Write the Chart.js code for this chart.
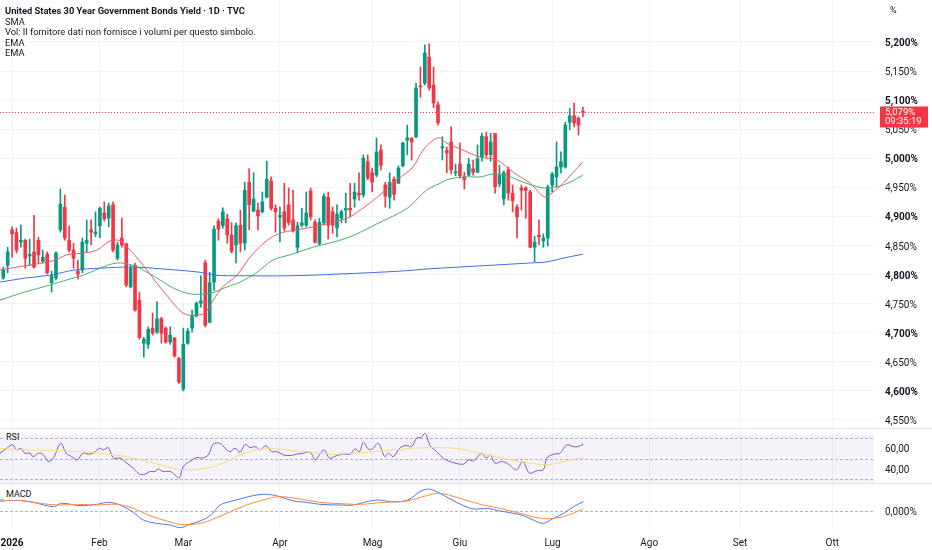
<!DOCTYPE html>
<html>
<head>
<meta charset="utf-8">
<title>US30Y</title>
<script src="https://cdn.jsdelivr.net/npm/chart.js@4.4.1/dist/chart.umd.min.js"></script>
<style>
  html, body { margin: 0; padding: 0; background: #ffffff; }
  #wrap { position: relative; width: 932px; height: 550px; overflow: hidden; font-family: Roboto, "Noto Sans", sans-serif; color: #131722; }
  canvas { position: absolute; left: 0; }
  #legend { position: absolute; left: 5px; top: 6px; font-size: 9.3px; line-height: 10.6px; white-space: nowrap; }
  .tag { position: absolute; left: 4px; font-size: 9px; line-height: 11px; padding: 0 2px; }
  #unit { position: absolute; left: 890px; top: 5px; font-size: 9px; }
</style>
</head>
<body>
<div id="wrap">
  <canvas id="main" width="932" height="428" style="top:0"></canvas>
  <canvas id="rsi" width="932" height="55" style="top:428px"></canvas>
  <canvas id="macd" width="932" height="67" style="top:483px"></canvas>
  <div id="legend">
    <b>United States 30 Year Government Bonds Yield · 1D · TVC</b><br>
    SMA<br>
    Vol: Il fornitore dati non fornisce i volumi per questo simbolo.<br>
    EMA<br>
    EMA
  </div>
  <div id="unit">%</div>
  <div class="tag" style="top:432px;background:#f5f2fa">RSI</div>
  <div class="tag" style="top:489px;background:#ffffff">MACD</div>
</div>
<script>
// --- dati (rendimento %, una candela per seduta) ---
const opens = [4.794,4.816,4.877,4.872,4.856,4.859,4.832,4.839,4.859,4.823,4.835,4.786,4.794,4.877,4.916,4.859,4.842,4.806,4.808,4.854,
  4.877,4.870,4.884,4.906,4.897,4.920,4.828,4.863,4.853,4.779,4.816,4.756,4.682,4.680,4.708,4.701,4.724,4.708,4.684,4.691,
  4.656,4.603,4.682,4.708,4.729,4.751,4.820,4.718,4.787,4.892,4.884,4.896,4.868,4.851,4.885,4.854,4.959,4.909,4.911,4.908,
  4.933,4.961,4.914,4.899,4.908,4.920,4.894,4.847,4.885,4.885,4.944,4.890,4.853,4.889,4.933,4.908,4.880,4.897,4.911,4.914,
  4.930,4.940,4.937,4.994,4.975,4.971,5.014,4.954,4.933,4.964,4.957,4.987,5.031,5.035,5.037,5.124,5.129,5.174,5.126,5.092,
  5.018,5.013,5.028,4.975,4.990,4.968,4.971,4.982,4.976,5.002,5.037,5.006,5.043,4.956,4.930,4.980,4.940,4.916,4.949,4.949,
  4.942,4.847,4.868,4.858,4.863,4.954,4.968,4.985,4.985,5.062,5.073,5.069,5.080];
const highs = [4.813,4.847,4.882,4.880,4.885,4.861,4.861,4.902,4.864,4.842,4.839,4.806,4.839,4.947,4.937,4.884,4.854,4.825,4.863,4.894,
  4.894,4.908,4.916,4.925,4.923,4.925,4.856,4.897,4.854,4.816,4.820,4.770,4.692,4.710,4.734,4.753,4.727,4.710,4.710,4.692,
  4.658,4.708,4.708,4.739,4.753,4.798,4.825,4.804,4.884,4.896,4.915,4.904,4.889,4.889,4.911,4.959,4.982,4.975,4.923,4.942,
  4.995,4.968,4.920,4.916,4.957,4.949,4.945,4.890,4.914,4.942,4.949,4.894,4.897,4.939,4.942,4.916,4.920,4.911,4.940,4.957,
  4.957,4.975,5.006,5.006,4.983,5.035,5.023,4.959,4.975,4.968,4.987,5.028,5.057,5.035,5.129,5.157,5.195,5.197,5.157,5.097,
  5.037,5.019,5.054,4.990,5.026,4.976,5.000,4.997,5.023,5.043,5.045,5.043,5.043,4.988,4.978,4.985,4.954,4.920,4.954,4.951,
  4.945,4.866,4.894,4.870,4.954,4.976,5.028,5.011,5.062,5.086,5.095,5.071,5.088];
const lows = [4.792,4.803,4.830,4.837,4.847,4.811,4.816,4.811,4.820,4.820,4.801,4.770,4.791,4.873,4.859,4.839,4.811,4.792,4.803,4.839,
  4.851,4.865,4.863,4.892,4.882,4.839,4.825,4.847,4.779,4.777,4.737,4.689,4.658,4.673,4.696,4.699,4.682,4.682,4.680,4.658,
  4.613,4.600,4.680,4.701,4.727,4.744,4.710,4.717,4.773,4.859,4.880,4.854,4.837,4.820,4.839,4.842,4.877,4.908,4.877,4.906,
  4.932,4.911,4.873,4.856,4.875,4.885,4.873,4.837,4.882,4.882,4.894,4.854,4.851,4.885,4.861,4.871,4.865,4.889,4.889,4.899,
  4.916,4.928,4.933,4.963,4.942,4.968,4.980,4.916,4.914,4.928,4.957,4.985,5.006,4.997,5.035,5.105,5.126,5.117,5.087,5.057,
  4.997,4.975,4.973,4.970,4.966,4.947,4.970,4.971,4.975,4.995,5.002,4.995,4.940,4.951,4.920,4.928,4.908,4.863,4.911,4.897,
  4.846,4.822,4.851,4.847,4.849,4.942,4.951,4.975,4.983,5.049,5.054,5.040,5.071];
const closes = [4.808,4.839,4.870,4.842,4.859,4.828,4.835,4.813,4.834,4.830,4.803,4.798,4.837,4.921,4.863,4.842,4.828,4.801,4.856,4.859,
  4.873,4.873,4.914,4.896,4.918,4.842,4.851,4.851,4.782,4.811,4.739,4.692,4.689,4.706,4.699,4.724,4.699,4.684,4.696,4.660,
  4.615,4.680,4.703,4.730,4.751,4.755,4.713,4.786,4.878,4.878,4.908,4.868,4.840,4.884,4.854,4.945,4.920,4.930,4.901,4.925,
  4.964,4.914,4.908,4.902,4.880,4.889,4.875,4.884,4.889,4.906,4.899,4.856,4.890,4.935,4.885,4.885,4.904,4.908,4.914,4.911,
  4.942,4.937,5.000,4.966,4.959,5.011,4.988,4.935,4.959,4.938,4.983,5.026,5.035,5.028,5.121,5.123,5.181,5.121,5.095,5.061,
  5.019,5.009,4.980,4.977,4.970,4.963,4.990,4.976,4.999,5.038,5.006,5.028,4.951,4.971,4.975,4.940,4.927,4.899,4.945,4.945,
  4.847,4.856,4.865,4.863,4.951,4.973,4.985,4.994,5.057,5.073,5.061,5.057,5.079];

// medie mobili (indice seduta, valore)
const smaIdx = [-0.8,5,10.6,16.3,22,29.5,35.7,44.8,48.2,53.9,65.3,76.7,90.4,97.2,108.6,120,123.9,127.9,132];
const smaVal = [4.787,4.794,4.799,4.808,4.811,4.813,4.810,4.804,4.799,4.798,4.798,4.801,4.806,4.810,4.815,4.820,4.822,4.829,4.835];
const emaFastIdx = [-0.8,4.9,9,11.8,14.5,18.2,21.3,24.3,26.6,28.9,32.7,35,38.7,40.9,43.2,45.9,47.8,50,53.2,56.2,60.1,63,65.3,70.5,
  78.3,81.3,85.8,89.7,93.3,95.6,97.9,99.5,101,104.7,108.6,112.5,116.1,120,123.4,125.2,127.5,132];
const emaFastVal = [4.808,4.815,4.820,4.825,4.834,4.837,4.842,4.858,4.858,4.842,4.808,4.785,4.751,4.734,4.730,4.734,4.756,4.779,4.799,4.830,
  4.859,4.871,4.875,4.882,4.897,4.911,4.937,4.963,4.985,5.014,5.031,5.035,5.026,5.014,5.002,4.997,4.976,4.957,4.933,4.942,4.957,4.994];
const emaSlowIdx = [-0.8,4.9,10.6,14.5,18.2,22,25.9,29.5,31.1,35,38.7,42.5,46.4,48.2,51,53.9,57.8,61.4,65.3,70.5,78.3,85.8,92,95.6,
  97.2,99.5,101,104.7,108.6,111.6,114.7,118.4,122.9,126.1,129.1,132];
const emaSlowVal = [4.756,4.770,4.782,4.791,4.799,4.811,4.820,4.816,4.811,4.794,4.777,4.767,4.767,4.770,4.779,4.787,4.804,4.825,4.834,4.847,
  4.863,4.890,4.914,4.940,4.949,4.957,4.963,4.968,4.968,4.973,4.970,4.959,4.949,4.951,4.959,4.971];

// RSI e sua media
const rsiIdx = [-0.75,0.8,2.1,3.1,4.0,4.9,6.1,6.8,8.0,9.0,10.3,11.4,13.1,14.3,15.6,16.9,18.1,19.4,20.5,21.9,22.8,23.9,25.1,26.6,28.1,
  29.6,31.0,32.3,33.4,34.6,35.3,36.4,38.0,39.1,40.1,41.0,42.5,44.1,45.2,46.7,47.8,49.4,50.5,51.6,52.8,53.9,55.1,56.2,57.3,58.5,
  59.8,61.1,62.3,63.8,65.3,66.8,68.3,69.9,71.0,72.1,73.1,74.3,75.9,77.4,79.0,80.1,81.1,82.0,83.1,84.1,85.4,86.9,87.7,88.8,90.4,
  91.9,93.0,94.2,95.1,96.1,97.2,98.7,100.2,102.1,104.8,105.9,107.1,109.0,110.0,110.9,112.0,113.5,115.0,116.9,118.3,119.8,121.5,
  123.0,123.8,125.3,126.8,128.3,129.8,130.9,132.1];
const rsiVal = [55.4,60.2,63.5,58.6,60.2,55.4,55.4,52.0,55.4,54.4,47.2,50.5,65.1,55.4,52.0,48.8,55.4,54.4,55.4,60.2,58.6,60.8,50.5,50.5,45.6,
  40.7,34.9,34.9,37.4,37.4,40.0,37.4,37.4,34.2,31.0,42.3,47.2,51.1,50.5,53.7,64.1,65.1,60.2,56.9,60.2,56.3,64.1,60.8,61.8,58.6,
  62.8,56.9,56.9,53.7,53.0,54.4,55.4,56.3,48.8,54.4,58.6,50.5,53.0,54.4,54.4,59.6,56.9,66.1,59.6,59.6,65.1,52.0,55.4,52.0,60.8,
  62.8,61.8,70.6,70.6,74.9,62.8,56.9,50.5,46.6,44.6,48.8,47.9,55.4,50.5,53.7,45.6,47.2,44.6,39.1,47.2,35.9,38.1,
  39.1,50.5,54.4,55.4,63.5,61.8,61.8,64.1];
const rsiMaIdx = [-0.75,3.8,10.6,19.0,24.3,29.6,35.7,41.0,46.3,50.9,53.9,59.2,64.6,69.9,75.2,82.8,88.9,96.4,104.0,110.1,116.9,123.8,127.6,132.1];
const rsiMaVal = [60.2,58.6,58.3,56.3,54.4,50.5,44.0,39.1,40.7,47.2,53.7,59.6,58.6,56.3,54.4,56.3,58.6,60.8,59.6,53.7,47.9,44.0,47.2,51.1];

// MACD (linea e segnale, %)
const macdIdx = [-0.75,2.3,6.8,11.4,13.3,17.5,21.3,23.9,26.6,29.6,31.9,34.9,38.0,40.3,42.5,44.8,47.1,49.4,51.6,53.9,56.9,60.0,63.0,
  66.1,69.1,72.1,76.7,79.7,82.8,85.4,88.1,90.4,92.6,94.9,96.8,98.7,101.8,104.8,107.1,110.1,113.1,116.2,118.5,120.7,123.0,125.3,
  127.6,129.9,132.1];
const macdVal = [0.0165,0.0165,0.013,0.0065,0.0116,0.008,0.010,0.013,0.009,-0.002,-0.0135,-0.0185,-0.021,-0.025,-0.020,-0.015,-0.007,
  0.009,0.014,0.018,0.023,0.025,0.0215,0.015,0.013,0.010,0.009,0.009,0.014,0.0165,0.014,0.014,0.018,0.029,0.033,0.029,0.018,0.008,
  0.003,0.004,0.0,-0.0035,-0.007,-0.0135,-0.0185,-0.011,-0.0035,0.0065,0.014];
const signalIdx = [-0.75,3.1,8.4,12.2,16.7,21.3,25.8,29.6,33.4,37.2,40.3,43.3,46.3,50.9,55.4,60.0,63.0,67.6,72.1,75.2,81.3,86.6,91.9,
  96.4,99.5,104.0,108.6,113.1,117.7,122.3,125.3,128.3,132.1];
const signalVal = [0.014,0.0165,0.0116,0.009,0.010,0.009,0.010,0.004,-0.007,-0.015,-0.020,-0.020,-0.016,-0.0035,0.009,0.018,0.0215,
  0.018,0.013,0.0116,0.010,0.013,0.015,0.023,0.0265,0.019,0.010,0.004,-0.0035,-0.011,-0.011,-0.007,0.003];

// assi
const monthIdx = [2,21.9,41,63,84.1,104,125.1,147.1,167.8,188.8];
const monthLabels = ['2026','Feb','Mar','Apr','Mag','Giu','Lug','Ago','Set','Ott'];
const priceTicks = [4.55,4.60,4.65,4.70,4.75,4.80,4.85,4.90,4.95,5.00,5.05,5.10,5.15,5.20];
const rsiTicks = [40,60];
const rsiLevels = [70,50,30];
const macdTicks = [0];
const lastTime = '09:35:19';

const X_MIN = -0.75, X_MAX = 198.3;
const AXIS_W = 58;
const FONT = 'Roboto, "Noto Sans", sans-serif';
const GREEN = '#089981', RED = '#F23645', GRID = '#f0f3fa', TEXT = '#131722';

const pts = (xs, ys) => xs.map((x, i) => ({ x: x, y: ys[i] }));
const comma = (v, d) => v.toFixed(d).replace('.', ',');

function xScale(withLabels) {
  return {
    type: 'linear', min: X_MIN, max: X_MAX, offset: false,
    grid: { color: GRID, drawTicks: false, offset: false },
    border: { display: false },
    ticks: {
      display: withLabels, padding: 7, maxRotation: 0, autoSkip: false, color: TEXT,
      font: c => ({ family: FONT, size: 10, weight: c.index === 0 ? 'bold' : 'normal' }),
      callback: (v, i) => monthLabels[i]
    },
    afterBuildTicks: s => { s.ticks = monthIdx.map(v => ({ value: v })); },
    afterFit: s => { s.paddingLeft = 0; s.paddingRight = 0; s.height = withLabels ? 20 : 0; }
  };
}

function yScale(min, max, ticks, fmt, fontFn, showGrid) {
  return {
    position: 'right', min: min, max: max,
    grid: { display: showGrid, color: GRID, drawTicks: false },
    border: { display: false },
    ticks: { padding: 11, labelOffset: 1.5, color: TEXT, font: fontFn, callback: fmt },
    afterBuildTicks: s => { s.ticks = ticks.map(v => ({ value: v })); },
    afterFit: s => { s.width = AXIS_W; s.paddingTop = 0; s.paddingBottom = 0; }
  };
}

const lineDs = (data, color, width) => ({
  type: 'line', data: data, borderColor: color, borderWidth: width || 1,
  pointRadius: 0, tension: 0.35, fill: false, order: 0
});

const baseOpts = {
  responsive: false, maintainAspectRatio: false, animation: false,
  layout: { padding: 0 },
  plugins: { legend: { display: false }, tooltip: { enabled: false } },
  events: []
};

// bold sulle quote intere a 0,1
const priceFont = c => {
  const v = c && c.tick ? c.tick.value : 0;
  return { family: FONT, size: 10, weight: Math.round(v * 100) % 10 === 0 && v ? 'bold' : 'normal' };
};

// --- pannello prezzi ---
const candleCol = opens.map((o, i) => closes[i] >= o ? GREEN : RED);
const wickData = lows.map((l, i) => ({ x: i, y: [l, highs[i]] }));
const bodyData = opens.map((o, i) => ({ x: i, y: [Math.min(o, closes[i]), Math.max(o, closes[i])] }));

const lastPrice = {
  id: 'lastPrice',
  afterDraw(chart) {
    const ctx = chart.ctx, a = chart.chartArea;
    const last = closes[closes.length - 1];
    const y = Math.round(chart.scales.y.getPixelForValue(last)) + 0.5;
    ctx.save();
    ctx.strokeStyle = RED; ctx.lineWidth = 1; ctx.setLineDash([1, 2]);
    ctx.beginPath(); ctx.moveTo(a.left, y); ctx.lineTo(a.right, y); ctx.stroke();
    ctx.setLineDash([]);
    ctx.fillStyle = RED;
    ctx.fillRect(a.right + 6, y - 6, 48, 21);
    ctx.fillStyle = '#ffffff';
    ctx.font = '9.5px ' + FONT; ctx.textBaseline = 'middle'; ctx.textAlign = 'left';
    ctx.fillText(comma(last, 3) + '%', a.right + 11, y + 0.5);
    ctx.fillText(lastTime, a.right + 11, y + 9);
    ctx.restore();
  }
};

new Chart(document.getElementById('main'), {
  type: 'bar',
  data: {
    datasets: [
      lineDs(pts(smaIdx, smaVal), '#3d6fe0'),
      lineDs(pts(emaFastIdx, emaFastVal), '#ef5a62'),
      lineDs(pts(emaSlowIdx, emaSlowVal), '#4caf6a'),
      { type: 'bar', data: bodyData, backgroundColor: candleCol, barThickness: 3, minBarLength: 1, grouped: false, order: 1 },
      { type: 'bar', data: wickData, backgroundColor: candleCol, barThickness: 1, grouped: false, order: 2 }
    ]
  },
  options: Object.assign({}, baseOpts, {
    scales: {
      x: xScale(false),
      y: yScale(4.5362, 5.2722, priceTicks, v => comma(v, 3) + '%', priceFont, true)
    }
  }),
  plugins: [lastPrice]
});

// --- pannello RSI ---
const rsiBand = {
  id: 'rsiBand',
  beforeDatasetsDraw(chart) {
    const ctx = chart.ctx, a = chart.chartArea, s = chart.scales.y;
    const top = s.getPixelForValue(rsiLevels[0]), bot = s.getPixelForValue(rsiLevels[2]);
    ctx.save();
    ctx.fillStyle = 'rgba(126,87,194,0.08)';
    ctx.fillRect(a.left, top - 4, a.right - a.left, bot - top + 8);
    ctx.strokeStyle = '#b2b5be'; ctx.lineWidth = 1; ctx.setLineDash([3, 2]);
    rsiLevels.forEach(l => {
      const y = Math.round(s.getPixelForValue(l)) + 0.5;
      ctx.beginPath(); ctx.moveTo(a.left, y); ctx.lineTo(a.right, y); ctx.stroke();
    });
    ctx.setLineDash([]);
    ctx.strokeStyle = '#e0e3eb';
    ctx.beginPath(); ctx.moveTo(0, 0.5); ctx.lineTo(chart.width, 0.5); ctx.stroke();
    ctx.restore();
  }
};

new Chart(document.getElementById('rsi'), {
  type: 'line',
  data: {
    datasets: [
      lineDs(pts(rsiMaIdx, rsiMaVal), '#f5dc7a'),
      lineDs(pts(rsiIdx, rsiVal), '#7e57c2')
    ]
  },
  options: Object.assign({}, baseOpts, {
    scales: {
      x: xScale(false),
      y: yScale(26.1, 80.1, rsiTicks, v => comma(v, 2), () => ({ family: FONT, size: 10 }), false)
    }
  }),
  plugins: [rsiBand]
});

// --- pannello MACD ---
const macdZero = {
  id: 'macdZero',
  beforeDatasetsDraw(chart) {
    const ctx = chart.ctx, a = chart.chartArea;
    const y = Math.round(chart.scales.y.getPixelForValue(0)) + 0.5;
    ctx.save();
    ctx.strokeStyle = '#b2b5be'; ctx.lineWidth = 1; ctx.setLineDash([3, 2]);
    ctx.beginPath(); ctx.moveTo(a.left, y); ctx.lineTo(a.right, y); ctx.stroke();
    ctx.setLineDash([]);
    ctx.strokeStyle = '#e0e3eb';
    ctx.beginPath(); ctx.moveTo(0, 0.5); ctx.lineTo(chart.width, 0.5); ctx.stroke();
    ctx.restore();
  }
};

new Chart(document.getElementById('macd'), {
  type: 'line',
  data: {
    datasets: [
      lineDs(pts(signalIdx, signalVal), '#ff8a3d'),
      lineDs(pts(macdIdx, macdVal), '#4a78ec')
    ]
  },
  options: Object.assign({}, baseOpts, {
    scales: {
      x: xScale(true),
      y: yScale(-0.0285, 0.042, macdTicks, v => comma(v, 3) + '%', () => ({ family: FONT, size: 10 }), false)
    }
  }),
  plugins: [macdZero]
});
</script>
</body>
</html>
